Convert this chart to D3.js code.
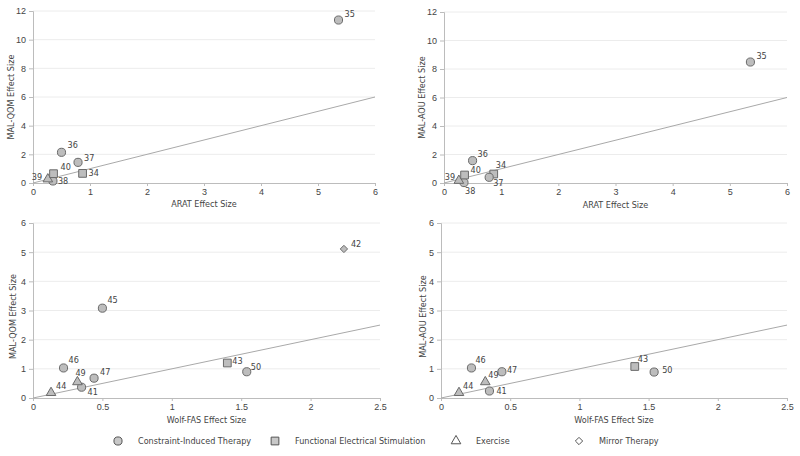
<!DOCTYPE html>
<html>
<head>
<meta charset="utf-8">
<script src="https://cdn.jsdelivr.net/npm/d3@7"></script>
<style>
  body { margin: 0; background: #fff; }
  svg { display: block; font-family: "DejaVu Sans Condensed", "DejaVu Sans", sans-serif; }
  .tick text { fill: #444; font-size: 9px; }
  .ttl { fill: #444; font-size: 9px; }
  .lbl { fill: #444; font-size: 9px; }
</style>
</head>
<body>
<svg id="chart" width="800" height="456"></svg>
<script>
// upper panels: ARAT
const upperIds = ["34", "35", "36", "37", "38", "39", "40"];
const upperType = ["FES", "CIT", "CIT", "CIT", "CIT", "EX", "FES"];
const aratES = [0.87, 5.36, 0.50, 0.79, 0.35, 0.26, 0.36];
const malQomUpper = [0.67, 11.37, 2.14, 1.44, 0.14, 0.27, 0.65];
const malAouUpper = [0.63, 8.49, 1.57, 0.40, 0.03, 0.17, 0.56];

// lower panels: Wolf-FAS
const lowerIds = ["41", "42", "43", "44", "45", "46", "47", "49", "50"];
const lowerType = ["CIT", "MT", "FES", "EX", "CIT", "CIT", "CIT", "EX", "CIT"];
const wolfES = [0.35, 2.24, 1.40, 0.13, 0.50, 0.22, 0.44, 0.32, 1.54];
const malQomLower = [0.37, 5.11, 1.20, 0.18, 3.08, 1.03, 0.68, 0.55, 0.90];
const malAouLower = [0.24, null, 1.08, 0.18, null, 1.03, 0.90, 0.55, 0.89];

const upperTicks = [0, 1, 2, 3, 4, 5, 6];
const upperYTicks = [0, 2, 4, 6, 8, 10, 12];
const lowerTicks = [0, 0.5, 1, 1.5, 2, 2.5];
const lowerYTicks = [0, 1, 2, 3, 4, 5, 6];

const legendNames = ["Constraint-Induced Therapy", "Functional Electrical Stimulation", "Exercise", "Mirror Therapy"];
const legendTypes = ["CIT", "FES", "EX", "MT"];

const svg = d3.select("#chart");

const symbolOf = {
    CIT: d3.symbol(d3.symbolCircle, 52),
    FES: d3.symbol(d3.symbolSquare, 60),
    EX: d3.symbol(d3.symbolTriangle, 40),
    MT: d3.symbol(d3.symbolDiamond2, 34)
};

// label offsets [dx, dy] relative to the marker
const panels = [
    { ids: upperIds, type: upperType, xs: aratES, ys: malQomUpper, xr: [33, 375], yr: [183, 11], xmax: 6, ymax: 12,
      xt: upperTicks, yt: upperYTicks, xTitle: "ARAT Effect Size", yTitle: "MAL-QOM Effect Size", titleY: 207, yTitleX: 11, yShift: 0,
      lab: { 34: [6, 3], 35: [6, -3], 36: [6, -4], 37: [6, -1], 38: [5, 3], 39: [-16, 1], 40: [7, -4] } },
    { ids: upperIds, type: upperType, xs: aratES, ys: malAouUpper, xr: [444, 787], yr: [183, 12], xmax: 6, ymax: 12,
      xt: upperTicks, yt: upperYTicks, xTitle: "ARAT Effect Size", yTitle: "MAL-AOU Effect Size", titleY: 208, yTitleX: 422, yShift: 0,
      lab: { 34: [2, -6], 35: [6, -3], 36: [5, -4], 37: [4, 9], 38: [1, 11], 39: [-14, -1], 40: [6, -2] } },
    { ids: lowerIds, type: lowerType, xs: wolfES, ys: malQomLower, xr: [33, 380], yr: [398, 223], xmax: 2.5, ymax: 6,
      xt: lowerTicks, yt: lowerYTicks, xTitle: "Wolf-FAS Effect Size", yTitle: "MAL-QOM Effect Size", titleY: 423, yTitleX: 13, yShift: 6,
      lab: { 41: [6, 8], 42: [7, -2], 43: [5, 1], 44: [5, -4], 45: [5, -5], 46: [5, -5], 47: [6, -3], 49: [-2, -6], 50: [4, -2] } },
    { ids: lowerIds, type: lowerType, xs: wolfES, ys: malAouLower, xr: [441, 787], yr: [398, 223], xmax: 2.5, ymax: 6,
      xt: lowerTicks, yt: lowerYTicks, xTitle: "Wolf-FAS Effect Size", yTitle: "MAL-AOU Effect Size", titleY: 423, yTitleX: 423, yShift: 6,
      lab: { 41: [7, 3], 43: [3, -5], 44: [4, -4], 46: [4, -5], 47: [5, 1], 49: [3, -4], 50: [8, 1] } }
];

panels.forEach(p => {
    const x = d3.scaleLinear().domain([0, p.xmax]).range(p.xr);
    const y = d3.scaleLinear().domain([0, p.ymax]).range(p.yr);
    const g = svg.append("g");

    // horizontal gridlines
    g.selectAll(".grid").data(p.yt.slice(1)).join("line")
        .attr("x1", p.xr[0]).attr("x2", p.xr[1])
        .attr("y1", d => y(d)).attr("y2", d => y(d))
        .attr("stroke", "#ececec");

    const yAxis = g.append("g").attr("transform", `translate(${p.xr[0]},0)`)
        .call(d3.axisLeft(y).tickValues(p.yt).tickSize(4).tickPadding(3).tickFormat(d3.format("~g")));
    const xAxis = g.append("g").attr("transform", `translate(0,${p.yr[0]})`)
        .call(d3.axisBottom(x).tickValues(p.xt).tickSize(3).tickPadding(3).tickFormat(d3.format("~g")));
    [yAxis, xAxis].forEach(a => {
        a.select(".domain").attr("stroke", "#bcbcbc");
        a.selectAll(".tick line").attr("stroke", "#bcbcbc");
    });

    // reference line y = x
    const lim = Math.min(p.xmax, p.ymax);
    g.append("line")
        .attr("x1", x(0)).attr("y1", y(0)).attr("x2", x(lim)).attr("y2", y(lim))
        .attr("stroke", "#a9a9a9").attr("stroke-width", 1);

    const pts = p.ids.map((id, i) => ({ id, t: p.type[i], vx: p.xs[i], vy: p.ys[i] }))
        .filter(d => d.vy !== null);

    g.selectAll(".pt").data(pts).join("path")
        .attr("transform", d => `translate(${x(d.vx)},${y(d.vy)})`)
        .attr("d", d => symbolOf[d.t]())
        .attr("fill", "#bdbdbd").attr("stroke", "#6a6a6a").attr("stroke-width", 1);

    g.selectAll(".lbl").data(pts).join("text").attr("class", "lbl")
        .attr("x", d => x(d.vx) + (p.lab[d.id] || [6, -4])[0])
        .attr("y", d => y(d.vy) + (p.lab[d.id] || [6, -4])[1])
        .text(d => d.id);

    g.append("text").attr("class", "ttl").attr("text-anchor", "middle")
        .attr("x", (p.xr[0] + p.xr[1]) / 2).attr("y", p.titleY).text(p.xTitle);
    g.append("text").attr("class", "ttl").attr("text-anchor", "middle")
        .attr("transform", `translate(${p.yTitleX},${(p.yr[0] + p.yr[1]) / 2 + p.yShift}) rotate(-90)`)
        .attr("dy", "0.35em").text(p.yTitle);
});

// legend
const legendX = [118, 275, 456, 579];
const leg = svg.append("g").attr("transform", "translate(0,441)");
legendTypes.forEach((t, i) => {
    leg.append("path").attr("transform", `translate(${legendX[i]},0)`)
        .attr("d", symbolOf[t]())
        .attr("fill", t === "EX" || t === "MT" ? "#fff" : "#c8c8c8")
        .attr("stroke", "#555").attr("stroke-width", 1);
    leg.append("text").attr("class", "ttl")
        .attr("x", legendX[i] + 20).attr("dy", "0.35em").text(legendNames[i]);
});
</script>
</body>
</html>
